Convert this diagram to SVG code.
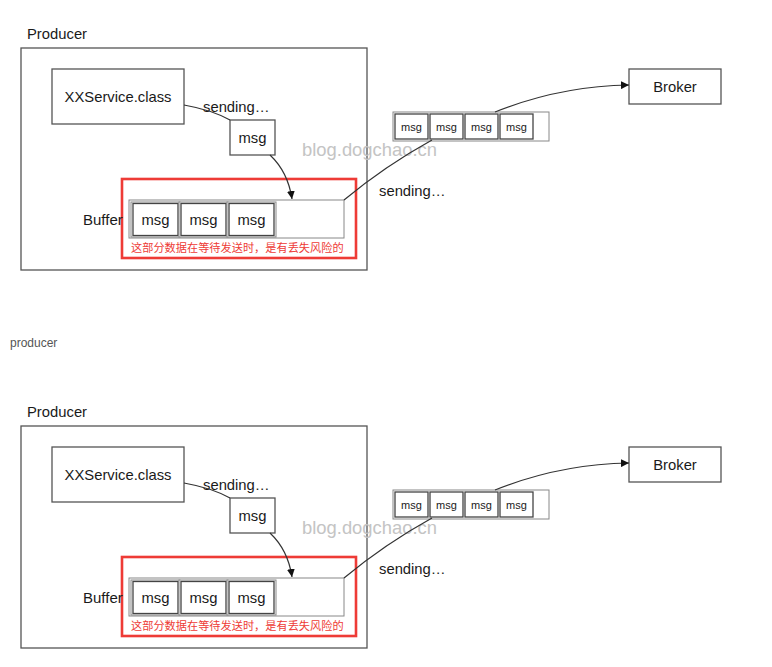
<svg xmlns="http://www.w3.org/2000/svg" width="772" height="667" viewBox="0 0 772 667">
<defs>
<style>
.t{font-family:"Liberation Sans",Arial,sans-serif;fill:#1a1a1a;font-size:14.8px}
.c{text-anchor:middle}
.box{fill:#fff;stroke:#555;stroke-width:1.3}
.cellO{fill:#fff;stroke:#888;stroke-width:1}
.cellI{fill:none;stroke:#444;stroke-width:1.3}
.red{fill:none;stroke:#ee3b36;stroke-width:2.6}
.rt{font-family:"Liberation Sans","Noto Sans CJK SC",sans-serif;font-size:11.2px;fill:#ee3b36}
.wm{font-family:"Liberation Sans",Arial,sans-serif;font-size:18.4px;fill:#c4c4c4}
.ln{fill:none;stroke:#333;stroke-width:1.2}
.sm{font-size:11px}
</style>
<marker id="ah" viewBox="0 0 10 10" refX="10" refY="5" markerWidth="8" markerHeight="8" markerUnits="userSpaceOnUse" orient="auto">
<path d="M0,0 L10,5 L0,10 z" fill="#111"/>
</marker>
</defs>
<rect width="772" height="667" fill="#fff"/>

<g id="diagram-top">
<g id="producer1">
<text class="t" x="27" y="39">Producer</text>
<rect class="box" x="21" y="48" width="346" height="222"/>
</g>
<g id="xxservice1">
<rect class="box" x="52" y="69" width="132" height="55"/>
<text class="t c" x="118" y="102">XXService.class</text>
</g>
<g id="msg1">
<rect class="box" x="230" y="120" width="45" height="35"/>
<text class="t c" x="252.5" y="143">msg</text>
</g>
<g id="buffer1">
<rect class="red" x="122" y="179" width="234" height="79"/>
<text class="t" x="83" y="225" style="font-size:15px">Buffer</text>
<rect class="cellO" x="129" y="200" width="215" height="38"/>
<rect class="cellO" x="131" y="202" width="49" height="35"/>
<rect class="cellI" x="133" y="203.5" width="45" height="32"/>
<rect class="cellO" x="179" y="202" width="49" height="35"/>
<rect class="cellI" x="181" y="203.5" width="45" height="32"/>
<rect class="cellO" x="227" y="202" width="49" height="35"/>
<rect class="cellI" x="229" y="203.5" width="45" height="32"/>
<text class="t c" x="155.5" y="225">msg</text>
<text class="t c" x="203.5" y="225">msg</text>
<text class="t c" x="251.5" y="225">msg</text>
<text class="rt" x="131" y="252">这部分数据在等待发送时，是有丢失风险的</text>
</g>
<g id="queue1">
<rect class="cellO" x="393" y="112" width="156" height="29"/>
<rect class="cellI" x="395" y="114" width="33" height="25"/>
<rect class="cellI" x="430" y="114" width="33" height="25"/>
<rect class="cellI" x="465" y="114" width="33" height="25"/>
<rect class="cellI" x="500" y="114" width="33" height="25"/>
<text class="t c sm" x="411.5" y="130.5">msg</text>
<text class="t c sm" x="446.5" y="130.5">msg</text>
<text class="t c sm" x="481.5" y="130.5">msg</text>
<text class="t c sm" x="516.5" y="130.5">msg</text>
</g>
<g id="broker1">
<rect class="box" x="629" y="69" width="92" height="35"/>
<text class="t c" x="675" y="92">Broker</text>
</g>
<g id="labels1">
<text class="t" x="203" y="112">sending…</text>
<text class="t" x="379" y="196">sending…</text>
<text class="wm" x="302" y="156">blog.dogchao.cn</text>
</g>
<g id="connectors1">
<path class="ln" d="M184,105 Q212,110 230,120"/>
<path class="ln" d="M270,155 Q288,172 292,199" marker-end="url(#ah)"/>
<path class="ln" d="M344,200 Q385,166 432,140"/>
<path class="ln" d="M495,112 Q560,86 629,85" marker-end="url(#ah)"/>
</g>
</g>

<text class="t" x="10" y="347" style="font-size:12px;fill:#555">producer</text>

<g id="diagram-bottom">
<g id="producer2">
<text class="t" x="27" y="417">Producer</text>
<rect class="box" x="21" y="426" width="346" height="222"/>
</g>
<g id="xxservice2">
<rect class="box" x="52" y="447" width="132" height="55"/>
<text class="t c" x="118" y="480">XXService.class</text>
</g>
<g id="msg2">
<rect class="box" x="230" y="498" width="45" height="35"/>
<text class="t c" x="252.5" y="521">msg</text>
</g>
<g id="buffer2">
<rect class="red" x="122" y="557" width="234" height="79"/>
<text class="t" x="83" y="603" style="font-size:15px">Buffer</text>
<rect class="cellO" x="129" y="578" width="215" height="38"/>
<rect class="cellO" x="131" y="580" width="49" height="35"/>
<rect class="cellI" x="133" y="581.5" width="45" height="32"/>
<rect class="cellO" x="179" y="580" width="49" height="35"/>
<rect class="cellI" x="181" y="581.5" width="45" height="32"/>
<rect class="cellO" x="227" y="580" width="49" height="35"/>
<rect class="cellI" x="229" y="581.5" width="45" height="32"/>
<text class="t c" x="155.5" y="603">msg</text>
<text class="t c" x="203.5" y="603">msg</text>
<text class="t c" x="251.5" y="603">msg</text>
<text class="rt" x="131" y="630">这部分数据在等待发送时，是有丢失风险的</text>
</g>
<g id="queue2">
<rect class="cellO" x="393" y="490" width="156" height="29"/>
<rect class="cellI" x="395" y="492" width="33" height="25"/>
<rect class="cellI" x="430" y="492" width="33" height="25"/>
<rect class="cellI" x="465" y="492" width="33" height="25"/>
<rect class="cellI" x="500" y="492" width="33" height="25"/>
<text class="t c sm" x="411.5" y="508.5">msg</text>
<text class="t c sm" x="446.5" y="508.5">msg</text>
<text class="t c sm" x="481.5" y="508.5">msg</text>
<text class="t c sm" x="516.5" y="508.5">msg</text>
</g>
<g id="broker2">
<rect class="box" x="629" y="447" width="92" height="35"/>
<text class="t c" x="675" y="470">Broker</text>
</g>
<g id="labels2">
<text class="t" x="203" y="490">sending…</text>
<text class="t" x="379" y="574">sending…</text>
<text class="wm" x="302" y="534">blog.dogchao.cn</text>
</g>
<g id="connectors2">
<path class="ln" d="M184,483 Q212,488 230,498"/>
<path class="ln" d="M270,533 Q288,550 292,577" marker-end="url(#ah)"/>
<path class="ln" d="M344,578 Q385,544 432,518"/>
<path class="ln" d="M495,490 Q560,464 629,463" marker-end="url(#ah)"/>
</g>
</g>
</svg>
